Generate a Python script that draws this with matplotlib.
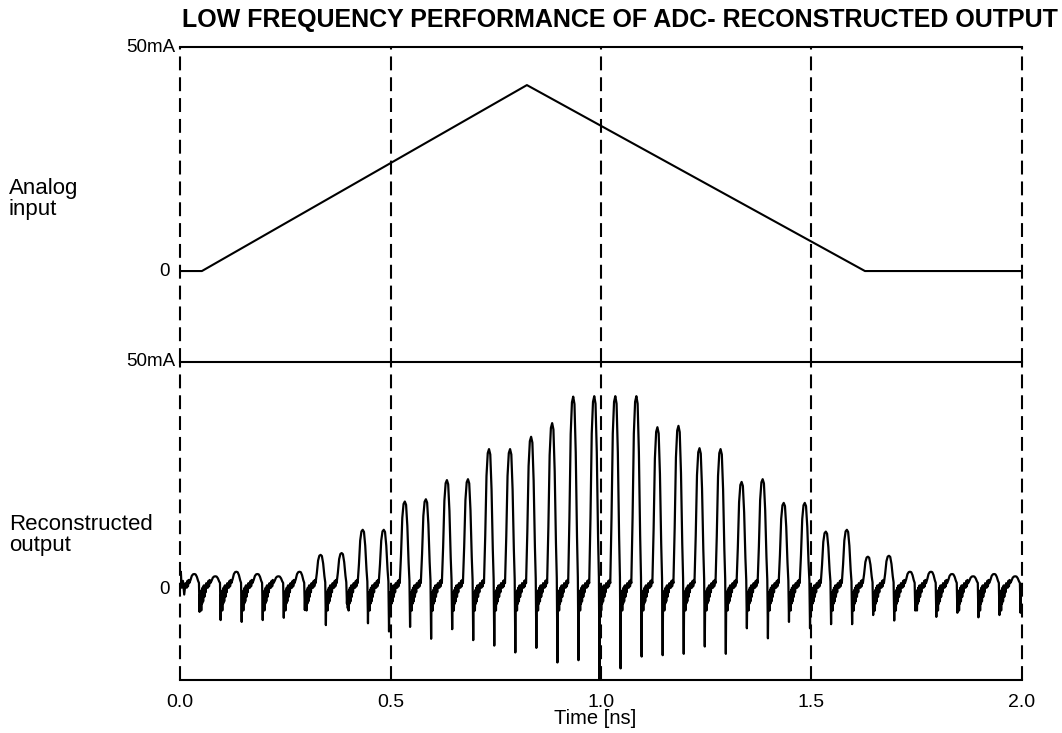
import matplotlib
matplotlib.use("Agg")
import matplotlib.pyplot as plt
from matplotlib.transforms import blended_transform_factory

plt.rcParams['font.family'] = ['Liberation Sans', 'DejaVu Sans']
plt.rcParams['lines.scale_dashes'] = False

title = "LOW FREQUENCY PERFORMANCE OF ADC- RECONSTRUCTED OUTPUT"
row_labels = ["Analog\ninput", "Reconstructed\noutput"]
x_label = "Time [ns]"
x_ticks = [0.0, 0.5, 1.0, 1.5, 2.0]
x_tick_labels = ["0.0", "0.5", "1.0", "1.5", "2.0"]
y_ticks = [0, 50]
y_tick_labels = ["0", "50mA"]

# Analog input: triangular ramp, breakpoints (ns, mA)
input_t = [0.0, 0.052, 0.824, 1.627, 2.0]
input_ma = [0.0, 0.0, 41.5, 0.0, 0.0]

# Reconstructed output: one pulse per sample clock (peak time, peak, undershoot)
pulse_t = [0.034, 0.084, 0.134, 0.184, 0.234, 0.284, 0.334, 0.384, 0.434, 0.484,
           0.534, 0.584, 0.634, 0.684, 0.734, 0.784, 0.834, 0.884, 0.934, 0.984,
           1.034, 1.084, 1.134, 1.184, 1.234, 1.284, 1.334, 1.384, 1.434, 1.484,
           1.534, 1.584, 1.634, 1.684, 1.734, 1.784, 1.834, 1.884, 1.934, 1.984]
pulse_peak_ma = [3.5, 3.0, 4.0, 3.5, 3.0, 4.0, 7.7, 8.1, 13.2, 13.2,
                 19.4, 19.9, 24.1, 24.3, 30.9, 30.9, 33.6, 36.6, 42.4, 42.5,
                 42.5, 42.5, 35.7, 36.0, 31.1, 30.9, 23.7, 24.3, 19.1, 19.1,
                 12.8, 13.2, 7.3, 7.5, 4.0, 4.0, 3.5, 3.0, 3.5, 3.0]
pulse_trough_ma = [-4.8, -6.6, -7.0, -6.6, -6.1, -4.4, -7.7, -3.0, -7.3, -9.1,
                   -8.1, -10.7, -8.6, -11.0, -12.2, -13.7, -12.7, -15.9, -15.4, -19.5,
                   -17.2, -14.6, -14.3, -14.0, -12.4, -14.0, -8.4, -10.6, -7.0, -8.4,
                   -7.5, -7.5, -5.5, -6.7, -4.5, -5.9, -5.0, -6.0, -5.5, -5.0]

# Output trace before the first pulse (ns, mA)
lead_t = [0.0, 0.002, 0.004, 0.007, 0.010, 0.013]
lead_ma = [1.0, 4.0, 0.5, 2.0, -1.0, 1.5]

# Shape of a single clock period, relative to its peak time (ns)
pre_dt = [-0.018, -0.0165, -0.015, -0.0135]
pre_ma = [0.5, 2.0, 0.8, 2.2]
edge_dt = [-0.012, -0.009, -0.006, -0.003, 0.0, 0.003, 0.006, 0.009, 0.011]
edge_frac = [0.0, 0.35, 0.8, 0.97, 1.0, 0.96, 0.7, 0.25, 0.03]
edge_base_ma = 1.5
trough_dt = 0.0125
ripple_dt = [0.0135, 0.0145, 0.0155, 0.0165, 0.0175, 0.0185, 0.0195, 0.021,
             0.0225, 0.024, 0.0255, 0.027, 0.0285, 0.030]
ripple_ma = [-1.0, -4.0, -0.5, -4.5, 0.0, -3.0, 0.5, -2.5, 1.0, -1.5, 1.0, -0.5, 1.5, 0.5]

out_t = list(lead_t)
out_ma = list(lead_ma)
for tp, pk, tr in zip(pulse_t, pulse_peak_ma, pulse_trough_ma):
    for dt, v in zip(pre_dt, pre_ma):
        out_t.append(tp + dt)
        out_ma.append(v)
    for dt, w in zip(edge_dt, edge_frac):
        out_t.append(tp + dt)
        out_ma.append(edge_base_ma + w * (pk - edge_base_ma))
    out_t.append(tp + trough_dt)
    out_ma.append(tr)
    for dt, v in zip(ripple_dt, ripple_ma):
        out_t.append(tp + dt)
        out_ma.append(v)

W, H = 1062, 733
fig = plt.figure(figsize=(W / 100, H / 100), dpi=100)
fig.patch.set_facecolor('white')

left = 180 / W
width = (1022 - 180) / W
ax_in = fig.add_axes([left, (H - 362) / H, width, (362 - 47) / H])
ax_out = fig.add_axes([left, (H - 680) / H, width, (680 - 362) / H])

lw_frame = 1.5
dash = (0, (10.0, 5.0))

for ax, ylo in ((ax_in, -20.3), (ax_out, -19.74)):
    ax.set_xlim(0.0, 2.0)
    ax.set_ylim(ylo, 50)
    ax.set_facecolor('none')
    for side in ('left', 'right', 'bottom'):
        ax.spines[side].set_visible(False)
    ax.spines['top'].set_linewidth(lw_frame)
    ax.set_yticks([])
    for xv in x_ticks:
        ax.axvline(xv, color='black', lw=lw_frame, linestyle=dash, clip_on=False)
    trans = blended_transform_factory(ax.transAxes, ax.transData)
    for yv, lab in zip(y_ticks, y_tick_labels):
        off = -0.005 if lab != "0" else -0.012
        ax.text(off, yv, lab, transform=trans, ha='right', va='center', fontsize=13.5)

ax_in.set_xticks([])
ax_out.spines['bottom'].set_visible(True)
ax_out.spines['bottom'].set_linewidth(lw_frame)
ax_out.set_xticks(x_ticks, x_tick_labels)
ax_out.tick_params(axis='x', length=0, pad=10, labelsize=14)

ax_in.plot(input_t, input_ma, color='black', lw=1.5)
ax_out.plot(out_t, out_ma, color='black', lw=1.6)

fig.text(595 / W, 1 - 719 / H, x_label, ha='center', va='center', fontsize=14.5)
fig.text(9 / W, 1 - 178 / H, row_labels[0], ha='left', va='top', fontsize=16, linespacing=1.0)
fig.text(9 / W, 1 - 514 / H, row_labels[1], ha='left', va='top', fontsize=16, linespacing=1.0)
fig.text(620 / W, 1 - 20 / H, title, ha='center', va='center', fontsize=18, fontweight='bold')

fig.savefig("out.png", dpi=100, facecolor='white')
